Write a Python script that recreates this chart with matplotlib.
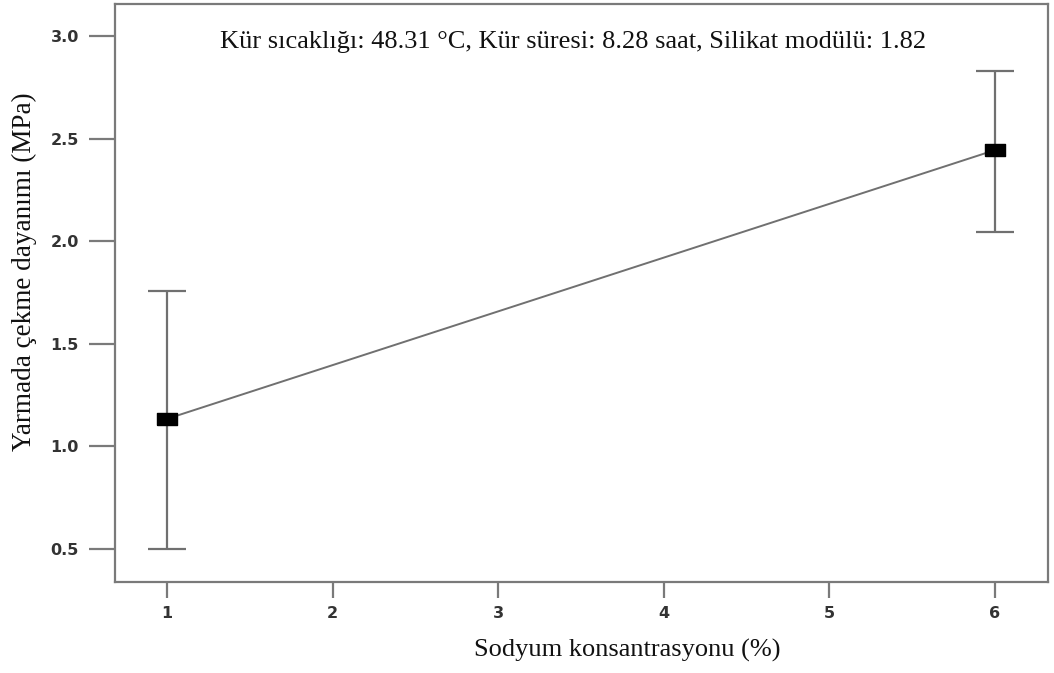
import matplotlib
matplotlib.use("Agg")
import matplotlib.pyplot as plt
import numpy as np

x_vals = [1, 6]
y_means = [1.134, 2.444]
y_lower = [0.50, 2.045]
y_upper = [1.755, 2.83]
x_ticks = [1, 2, 3, 4, 5, 6]
y_ticks = [0.5, 1.0, 1.5, 2.0, 2.5, 3.0]
title_text = "Kür sıcaklığı: 48.31 °C, Kür süresi: 8.28 saat, Silikat modülü: 1.82"
x_label = "Sodyum konsantrasyonu (%)"
y_label = "Yarmada çekme dayanımı (MPa)"

W, H = 1054, 673
fig = plt.figure(figsize=(W / 100, H / 100), dpi=100)
ax = fig.add_axes([115 / W, 1 - 582 / H, (1048 - 115) / W, (582 - 4) / H])

gray = "#707070"
err = [np.array(y_means) - np.array(y_lower), np.array(y_upper) - np.array(y_means)]
ax.errorbar(x_vals, y_means, yerr=err, fmt="none", ecolor=gray, elinewidth=1.6,
            capsize=14, capthick=1.6, zorder=2)
ax.plot(x_vals, y_means, color=gray, linewidth=1.4, zorder=3)
rect = [(-1, -0.6), (1, -0.6), (1, 0.6), (-1, 0.6), (-1, -0.6)]
ax.plot(x_vals, y_means, linestyle="none", marker=rect, markersize=14.5,
        color="black", zorder=4)

ax.set_xlim(0.686, 6.32)
ax.set_ylim(0.339, 3.156)
ax.set_xticks(x_ticks)
ax.set_yticks(y_ticks)
ax.set_yticklabels([f"{v:.1f}" for v in y_ticks])

for s in ax.spines.values():
    s.set_color("#7a7a7a")
    s.set_linewidth(1.6)

ax.tick_params(axis="y", length=19, width=1.6, color="#7a7a7a", pad=7,
               labelsize=11.5, labelcolor="#333333")
ax.tick_params(axis="x", length=11.5, width=1.6, color="#7a7a7a", pad=6,
               labelsize=11.5, labelcolor="#333333")
for lab in ax.get_xticklabels() + ax.get_yticklabels():
    lab.set_fontweight("bold")
    lab.set_family("DejaVu Sans")

ax.text(573 / W * W / 933 - 115 / 933, (582 - 42) / 578, title_text,
        transform=ax.transAxes, ha="center", va="center",
        fontsize=19, family="Liberation Serif", color="#111111")

fig.text(627 / W, 1 - 650 / H, x_label, ha="center", va="center",
         fontsize=19, family="Liberation Serif", color="#111111")
fig.text(24 / W, 1 - 272 / H, y_label, ha="center", va="center", rotation=90,
         fontsize=19.5, family="Liberation Serif", color="#111111")

fig.savefig("out.png", dpi=100)
